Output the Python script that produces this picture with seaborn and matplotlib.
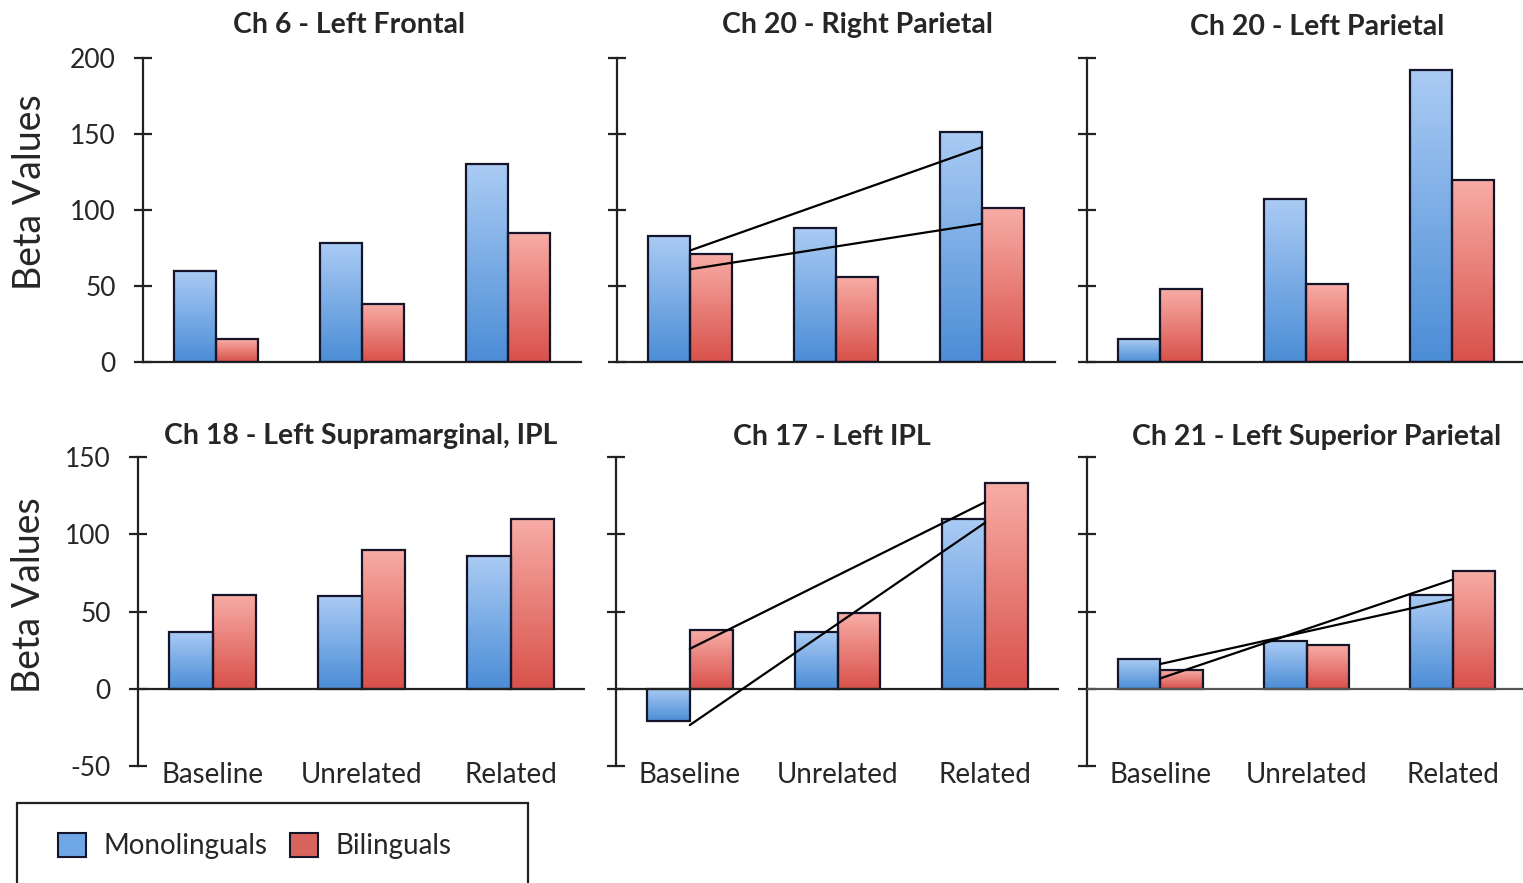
import numpy as np
import pandas as pd
import matplotlib
matplotlib.use("Agg")
import matplotlib.pyplot as plt
import seaborn as sns
from matplotlib.colors import LinearSegmentedColormap
from matplotlib.patches import Patch, Rectangle

# ---------------- data ----------------
conditions = ["Baseline", "Unrelated", "Related"]
groups = ["Monolinguals", "Bilinguals"]

titles = [
    "Ch 6 - Left Frontal",
    "Ch 20 - Right Parietal",
    "Ch 20 - Left Parietal",
    "Ch 18 - Left Supramarginal, IPL",
    "Ch 17 - Left IPL",
    "Ch 21 - Left Superior Parietal",
]

mono_ch6 = [60, 78, 130]
bili_ch6 = [15, 38, 85]
mono_ch20r = [83, 88, 151]
bili_ch20r = [71, 56, 101]
mono_ch20l = [15, 107, 192]
bili_ch20l = [48, 51, 120]
mono_ch18 = [37, 60, 86]
bili_ch18 = [61, 90, 110]
mono_ch17 = [-21, 37, 110]
bili_ch17 = [38, 49, 133]
mono_ch21 = [19, 31, 61]
bili_ch21 = [12, 28, 76]

mono_values = [mono_ch6, mono_ch20r, mono_ch20l, mono_ch18, mono_ch17, mono_ch21]
bili_values = [bili_ch6, bili_ch20r, bili_ch20l, bili_ch18, bili_ch17, bili_ch21]
has_trend = [False, True, False, False, True, True]

top_yticks = [0, 50, 100, 150, 200]
bottom_yticks = [-50, 0, 50, 100, 150]

# ---------------- style ----------------
FONT = ["Lato", "DejaVu Sans"]
sns.set_theme(style="white")
plt.rcParams["font.family"] = FONT
plt.rcParams["axes.unicode_minus"] = False

W, H = 1523, 883
fig = plt.figure(figsize=(W / 100, H / 100), dpi=100)

def px_axes(left, top, right, bottom):
    return fig.add_axes([left / W, 1 - bottom / H, (right - left) / W, (bottom - top) / H])

# axes rectangles in pixel coords (left, top, right, bottom)
rects = [
    (143, 58, 581, 362), (617, 58, 1055, 362), (1087, 58, 1525, 362),
    (138, 457, 585, 766), (616, 457, 1059, 766), (1087, 457, 1526, 766),
]
title_pos = [(349, 25), (857, 25), (1317, 27), (361, 436), (832, 437), (1317, 437)]

blue_cmap = LinearSegmentedColormap.from_list("b", ["#4b8dd6", "#aacbf4"])
red_cmap = LinearSegmentedColormap.from_list("r", ["#d8514a", "#f8aca6"])
palette = {"Monolinguals": "#6fa6e6", "Bilinguals": "#d9645c"}
edge = "#15152a"

for i in range(6):
    l, t, r, b = rects[i]
    ax = px_axes(l, t, r, b)
    df = pd.DataFrame({
        "condition": conditions * 2,
        "group": [groups[0]] * 3 + [groups[1]] * 3,
        "value": list(mono_values[i]) + list(bili_values[i]),
    })
    sns.barplot(data=df, x="condition", y="value", hue="group", order=conditions,
                hue_order=groups, palette=palette, width=0.58, gap=0,
                edgecolor=edge, linewidth=1.6, legend=False, ax=ax, zorder=3)
    top_row = i < 3
    ylim = (0, 200) if top_row else (-50, 150)

    # gradient fill for bars
    for cont, cmap in zip(ax.containers, [blue_cmap, red_cmap]):
        for bar in cont:
            x0, y0 = bar.get_x(), bar.get_y()
            w, h = bar.get_width(), bar.get_height()
            ylo, yhi = min(y0, y0 + h), max(y0, y0 + h)
            grad = np.linspace(0, 1, 256).reshape(-1, 1)
            im = ax.imshow(grad, extent=[x0, x0 + w, ylo, yhi], origin="lower",
                           cmap=cmap, aspect="auto", zorder=2.5)
            im.set_clip_path(bar)
            bar.set_facecolor("none")
    ax.set_xlim(-0.5, 2.5)
    ax.set_ylim(*ylim)
    ax.set_yticks(top_yticks if top_row else bottom_yticks)

    # trend lines (linear fit per group, at category centers)
    if has_trend[i]:
        xs = np.arange(len(conditions))
        for vals in (mono_values[i], bili_values[i]):
            k, c = np.polyfit(xs, vals, 1)
            ax.plot([xs[0], xs[-1]], [c, c + k * xs[-1]], color="black", lw=1.6, zorder=5)

    # spines / axes
    for s in ["top", "right"]:
        ax.spines[s].set_visible(False)
    ax.spines["left"].set_color("#222222")
    ax.spines["left"].set_linewidth(1.6)
    if top_row:
        ax.spines["bottom"].set_color("#222222")
        ax.spines["bottom"].set_linewidth(1.6)
    else:
        ax.spines["bottom"].set_visible(False)
        ax.axhline(0, color="#222222" if i != 5 else "#555555", lw=1.6, zorder=4)
    ax.tick_params(axis="y", direction="inout", length=13, width=1.6, color="#222222",
                   labelsize=19, pad=13, left=True)
    if i % 3 != 0:
        ax.tick_params(axis="y", labelleft=False)
    ax.tick_params(axis="x", length=0, labelsize=20, pad=-3)
    if top_row:
        ax.tick_params(axis="x", labelbottom=False)
    ax.set_xlabel("")
    ax.set_ylabel("")
    ax.set_facecolor("white")

    tx, ty = title_pos[i]
    fig.text(tx / W, 1 - ty / H, titles[i], ha="center", va="center",
             fontsize=20.5, fontweight="bold", family=FONT)

    if i % 3 == 0:
        ax.set_ylabel("Beta Values", fontsize=27)
        ax.yaxis.set_label_coords(-0.218 if top_row else -0.203, 0.56 if top_row else 0.553)

# legend
handles = [Patch(facecolor=palette[g], edgecolor=edge, linewidth=1.5) for g in groups]
fig.legend(handles, groups, loc="center left", bbox_to_anchor=(58 / W, 1 - 846 / H),
           ncol=2, frameon=False, fontsize=20, handlelength=1.0, handleheight=1.0,
           handletextpad=0.65, columnspacing=0.8, borderpad=0, borderaxespad=0)
fig.add_artist(Rectangle((17 / W, -0.02), (528 - 17) / W, (890 - 803) / H + 0.012,
                         transform=fig.transFigure, fill=False, lw=1.6,
                         edgecolor="#222222", clip_on=False))

fig.savefig("out.png", dpi=100, facecolor="white")
